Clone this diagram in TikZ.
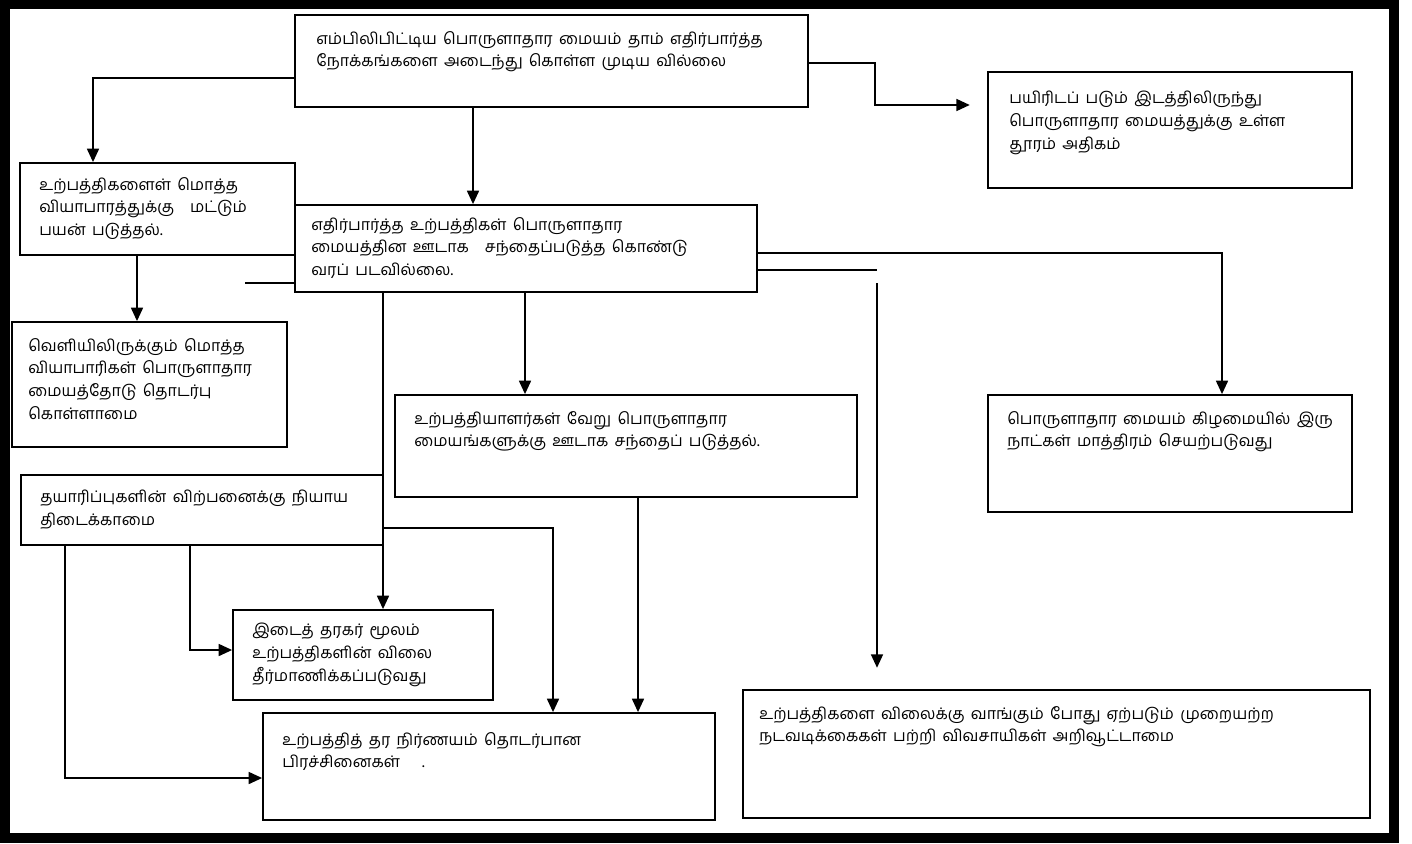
\documentclass[tikz,border=0pt]{standalone}
\usepackage{fontspec}
\newfontfamily\tamil[Script=Tamil,WordSpace=1.6]{Hind Madurai}
\usetikzlibrary{arrows.meta,positioning,fit}

\begin{document}
\begin{tikzpicture}[x=0.75pt,y=-0.75pt,
  box/.style={draw,line width=1.4pt,inner sep=0pt},
  txt/.style={anchor=north west,align=left,inner sep=0pt,font=\tamil\fontsize{12}{17}\selectfont},
  arr/.style={line width=1.1pt,-{Triangle[length=10pt,width=9pt]}},
  ln/.style={line width=1.1pt}]
\useasboundingbox (0,0) rectangle (1412,843);
\draw[line width=7.5pt] (5,4) rectangle (1394,838);
% --- boxes ---
\node[box,fit={(295,15) (808,107)}]   (goal)    {};
\node[box,fit={(988,72) (1352,188)}]  (dist)    {};
\node[box,fit={(20,163) (295,255)}]   (whole)   {};
\node[box,fit={(295,205) (757,292)}]  (mkt)     {};
\node[box,fit={(12,322) (287,447)}]   (outside) {};
\node[box,fit={(395,395) (857,497)}]  (other)   {};
\node[box,fit={(988,395) (1352,512)}] (days)    {};
\node[box,fit={(21,475) (383,545)}]   (fair)    {};
\node[box,fit={(233,610) (493,700)}]  (broker)  {};
\node[box,fit={(263,713) (715,820)}]  (quality) {};
\node[box,fit={(743,690) (1370,818)}] (aware)   {};
% --- texts ---
\node[txt] at ([shift={(22,17)}]goal.north west)
  {எம்பிலிபிட்டிய பொருளாதார மையம் தாம் எதிர்பார்த்த\\நோக்கங்களை அடைந்து கொள்ள முடிய வில்லை};
\node[txt] at ([shift={(22,20)}]dist.north west)
  {பயிரிடப் படும் இடத்திலிருந்து\\பொருளாதார மையத்துக்கு உள்ள\\தூரம் அதிகம்};
\node[txt] at ([shift={(20,15)}]whole.north west)
  {உற்பத்திகளைள் மொத்த\\வியாபாரத்துக்கு\quad மட்டும்\\பயன் படுத்தல்.};
\node[txt] at ([shift={(17,13)}]mkt.north west)
  {எதிர்பார்த்த உற்பத்திகள் பொருளாதார\\மையத்தின ஊடாக\quad சந்தைப்படுத்த கொண்டு\\வரப் படவில்லை.};
\node[txt] at ([shift={(17,17)}]outside.north west)
  {வெளியிலிருக்கும் மொத்த\\வியாபாரிகள் பொருளாதார\\மையத்தோடு தொடர்பு\\கொள்ளாமை};
\node[txt] at ([shift={(20,17)}]other.north west)
  {உற்பத்தியாளர்கள் வேறு பொருளாதார\\மையங்களுக்கு ஊடாக சந்தைப் படுத்தல்.};
\node[txt] at ([shift={(20,17)}]days.north west)
  {பொருளாதார மையம் கிழமையில் இரு\\நாட்கள் மாத்திரம் செயற்படுவது};
\node[txt] at ([shift={(20,16)}]fair.north west)
  {தயாரிப்புகளின் விற்பனைக்கு நியாய\\திடைக்காமை};
\node[txt] at ([shift={(20,14)}]broker.north west)
  {இடைத் தரகர் மூலம்\\உற்பத்திகளின் விலை\\தீர்மாணிக்கப்படுவது};
\node[txt] at ([shift={(20,20)}]quality.north west)
  {உற்பத்தித் தர நிர்ணயம் தொடர்பான\\பிரச்சினைகள்\quad\ .};
\node[txt] at ([shift={(17,17)}]aware.north west)
  {உற்பத்திகளை விலைக்கு வாங்கும் போது ஏற்படும் முறையற்ற\\நடவடிக்கைகள் பற்றி விவசாயிகள் அறிவூட்டாமை};
% --- free ends ---
\coordinate (stubL) at (245,283);
\coordinate (stubR) at (877,270);
\coordinate (dropT) at (877,283);
% --- connectors ---
\draw[arr] (goal.west |- 0,78) -| (93,0 |- whole.north);
\draw[arr,shorten >=13pt] (goal.east |- 0,63) -| (875,105) -- (dist.west |- 0,105);
\draw[arr] (473,0 |- goal.south) -- (473,0 |- mkt.north);
\draw[arr] (137,0 |- whole.south) -- (137,0 |- outside.north);
\draw[ln] (stubL) -- (mkt.west |- stubL);
\draw[arr] (mkt.east |- 0,253) -| (1222,0 |- days.north);
\draw[ln] (mkt.east |- stubR) -- (stubR);
\draw[arr,shorten >=16pt] (dropT) -- (dropT |- aware.north);
\draw[arr] (525,0 |- mkt.south) -- (525,0 |- other.north);
\draw[arr] (383,0 |- mkt.south) -- (383,0 |- broker.north);
\draw[arr] (638,0 |- other.south) -- (638,0 |- quality.north);
\draw[arr] (fair.east |- 0,528) -| (553,0 |- quality.north);
\draw[arr] (190,0 |- fair.south) |- (broker.west |- 0,650);
\draw[arr] (65,0 |- fair.south) |- (quality.west |- 0,778);
\end{tikzpicture}
\end{document}
